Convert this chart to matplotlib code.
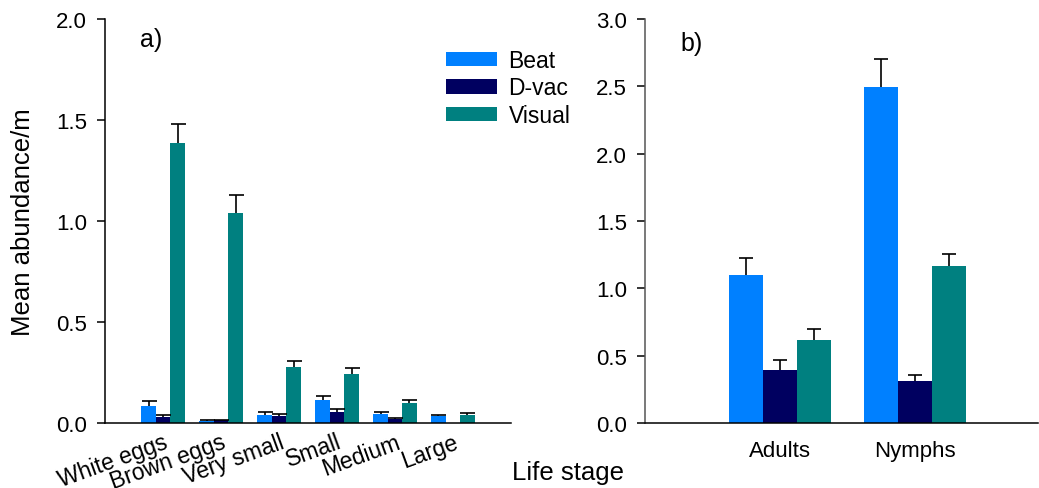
import numpy as np
import matplotlib.pyplot as plt

plt.rcParams["font.family"] = ["Liberation Sans", "DejaVu Sans"]

methods = ["Beat", "D-vac", "Visual"]
colors = ["#0080ff", "#000060", "#008080"]

# panel a) life stages
stages = ["White eggs", "Brown eggs", "Very small", "Small", "Medium", "Large"]
beat_a = [0.084, 0.008, 0.041, 0.114, 0.045, 0.033]
beat_a_se = [0.023, 0.005, 0.012, 0.018, 0.011, 0.005]
dvac_a = [0.031, 0.015, 0.036, 0.056, 0.021, np.nan]
dvac_a_se = [0.009, 0.002, 0.009, 0.012, 0.004, np.nan]
visual_a = [1.386, 1.040, 0.277, 0.243, 0.099, 0.041]
visual_a_se = [0.094, 0.087, 0.031, 0.028, 0.016, 0.010]

# panel b) adults vs nymphs
groups_b = ["Adults", "Nymphs"]
beat_b = [1.10, 2.495]
beat_b_se = [0.124, 0.205]
dvac_b = [0.395, 0.314]
dvac_b_se = [0.075, 0.046]
visual_b = [0.618, 1.167]
visual_b_se = [0.077, 0.091]


def grouped_bars(ax, series, errors, n, capsize):
    x = np.arange(1, n + 1)
    width = 0.25
    handles = []
    for i, (vals, se) in enumerate(zip(series, errors)):
        pos = x + (i - 1) * width
        h = ax.bar(pos, vals, width, color=colors[i], label=methods[i], zorder=2)
        handles.append(h)
        eb = ax.errorbar(pos, vals, yerr=[np.zeros(n), se], fmt="none", ecolor="black",
                         elinewidth=1.2, capsize=capsize, capthick=1.2, zorder=3)
        # only the upper cap is wanted
        eb[1][0].set_visible(False)
    return x, handles


def style(ax, spine_color="black"):
    for s in ["top", "right"]:
        ax.spines[s].set_visible(False)
    ax.spines["left"].set_color(spine_color)
    ax.spines["left"].set_linewidth(1.1)
    ax.spines["bottom"].set_linewidth(1.1)
    ax.tick_params(axis="y", direction="out", length=6, width=1.1, pad=7, labelsize=16)
    ax.tick_params(axis="x", length=0)


fig = plt.figure(figsize=(10.39, 4.89), dpi=100)
ax1 = fig.add_axes([0.1011, 0.1329, 0.3907, 0.826])
ax2 = fig.add_axes([0.6208, 0.1329, 0.3782, 0.826])

x1, handles = grouped_bars(ax1, [beat_a, dvac_a, visual_a],
                           [beat_a_se, dvac_a_se, visual_a_se], len(stages), 5.4)
ax1.set_xlim(0, 7)
ax1.set_ylim(0, 2.0)
ax1.set_yticks([0, 0.5, 1.0, 1.5, 2.0])
ax1.set_yticklabels(["0.0", "0.5", "1.0", "1.5", "2.0"])
style(ax1)
ax1.set_xticks(x1)
ax1.set_xticklabels(stages, rotation=20, ha="right", rotation_mode="anchor", fontsize=16.5)
ax1.tick_params(axis="x", pad=5)
ax1.set_ylabel("Mean abundance/m", fontsize=18.5, labelpad=15)
ax1.text(0.085, 0.95, "a)", transform=ax1.transAxes, fontsize=18, va="center")

x2, _ = grouped_bars(ax2, [beat_b, dvac_b, visual_b],
                     [beat_b_se, dvac_b_se, visual_b_se], len(groups_b), 4.8)
ax2.set_xlim(0, 2.91)
ax2.set_ylim(0, 3.0)
ax2.set_yticks(np.arange(0, 3.01, 0.5))
ax2.set_yticklabels(["%.1f" % v for v in np.arange(0, 3.01, 0.5)])
style(ax2, spine_color="#555555")
ax2.set_xticks(x2)
ax2.set_xticklabels(groups_b, fontsize=16)
ax2.tick_params(axis="x", pad=12)
ax2.text(0.09, 0.94, "b)", transform=ax2.transAxes, fontsize=18, va="center")

fig.legend(handles, methods, loc="upper left", bbox_to_anchor=(0.429, 0.898),
           frameon=False, fontsize=16.5, handlelength=2.22, handleheight=0.6,
           handletextpad=0.52, labelspacing=0.2, borderaxespad=0, borderpad=0)

fig.text(0.547, 0.033, "Life stage", fontsize=18.5, ha="center", va="center")

fig.savefig("out.png", dpi=100)
